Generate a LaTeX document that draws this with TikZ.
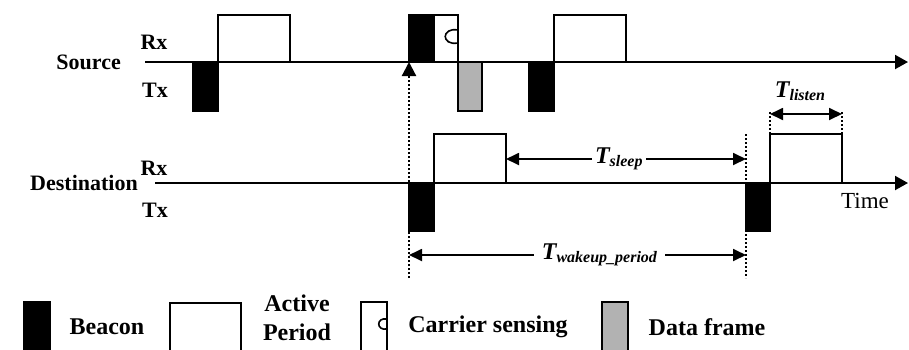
\documentclass[tikz,border=0pt]{standalone}
\usepackage{fontspec}
\setmainfont{Liberation Serif}
\usetikzlibrary{arrows.meta}
\definecolor{framegray}{RGB}{178,178,178}
\tikzset{
  axisline/.style={line width=2pt, -{Triangle[length=13pt,width=14pt]}},
  beaconbox/.style={fill=black, draw=black, line width=1.4pt},
  activebox/.style={fill=white, draw=black, line width=1.8pt},
  databox/.style={fill=framegray, draw=black, line width=1.8pt},
  dotline/.style={line width=2.2pt, dash pattern=on 2pt off 2pt},
  dimline/.style={line width=1.8pt, {Triangle[length=13pt,width=12pt]}-{Triangle[length=13pt,width=12pt]}},
  csglyph/.style={line width=1.6pt},
  lbl/.style={font=\fontsize{22}{24}\selectfont\bfseries, inner sep=0pt},
  leglbl/.style={font=\fontsize{24}{29}\selectfont\bfseries, inner sep=0pt},
  tlbl/.style={fill=white, inner sep=3pt, font=\fontsize{24}{24}\selectfont\bfseries\itshape},
}
\newcommand{\Tsub}[1]{T\raisebox{-3pt}{\fontsize{16}{16}\selectfont\bfseries\itshape #1}}
\begin{document}
\begin{tikzpicture}[x=1pt,y=-1pt]
\useasboundingbox (0,0) rectangle (909,349);
\clip (0,0) rectangle (909,349);

% ---------- Source ----------
\draw[beaconbox] (193,62) rectangle (218,111);
\draw[activebox] (218,15) rectangle (290,62);
\draw[beaconbox] (409,15) rectangle (434,62);
\draw[activebox] (434,15) rectangle (458,62);
\draw[csglyph] (458,30) .. controls (441,27) and (441,46) .. (458,43);
\draw[databox] (458,62) rectangle (482,111);
\draw[beaconbox] (529,62) rectangle (554,111);
\draw[activebox] (554,15) rectangle (626,62);
\coordinate (sA) at (145,62);
\coordinate (sB) at (908,62);
\draw[axisline] (sA) -- (sB);
\node[lbl, anchor=east] (src) at (121,62) {Source};
\node[lbl] (srx) at (154,42) {Rx};
\node[lbl] (stx) at (155,90) {Tx};

% ---------- Destination ----------
\draw[activebox] (434,134) rectangle (506,183);
\draw[beaconbox] (409,183) rectangle (434,231);
\draw[beaconbox] (746,183) rectangle (770,231);
\draw[activebox] (770,134) rectangle (842,183);
\coordinate (dA) at (155,183);
\coordinate (dB) at (908,183);
\draw[axisline] (dA) -- (dB);
\node[lbl, anchor=east] (dst) at (138,183) {Destination};
\node[lbl] (drx) at (154,168) {Rx};
\node[lbl] (dtx) at (155,210) {Tx};
\node[font=\fontsize{23}{24}\selectfont, inner sep=0pt] (time) at (865,201) {Time};

% ---------- dotted markers ----------
\coordinate (w1b) at (409,278);
\coordinate (w1t) at (409,62);
\draw[dotline, -{Triangle[length=14pt,width=14pt]}] (w1b) -- (w1t);
\coordinate (w2t) at (746,134);
\coordinate (w2b) at (746,278);
\draw[dotline] (w2t) -- (w2b);
\coordinate (l1t) at (770,112);
\coordinate (l1b) at (770,134);
\coordinate (l2t) at (842,112);
\coordinate (l2b) at (842,134);
\draw[dotline] (l1t) -- (l1b);
\draw[dotline] (l2t) -- (l2b);

% ---------- durations ----------
\coordinate (sl1) at (506,159);
\coordinate (sl2) at (746,159);
\draw[dimline] (sl1) -- node[tlbl, pos=0.47] (tsleep) {\Tsub{sleep}} (sl2);
\coordinate (wk1) at (409,255);
\coordinate (wk2) at (746,255);
\draw[dimline] (wk1) -- node[tlbl, pos=0.565, inner xsep=8pt] (twake) {\Tsub{wakeup\_period}} (wk2);
\coordinate (ls1) at (770,114);
\coordinate (ls2) at (842,114);
\draw[dimline] (ls1) -- (ls2);
\node[tlbl, fill=none] (tlisten) at (800,91) {\Tsub{listen}};

% ---------- legend ----------
\draw[beaconbox] (24,302) rectangle (50,360);
\node[leglbl] (lbeacon) at (107,327) {Beacon};
\draw[activebox] (170,303) rectangle (241,360);
\node[leglbl, align=center] (lactive) at (297,318) {Active\\Period};
\draw[activebox] (361,302) rectangle (387,360);
\draw[csglyph] (387,319) .. controls (376,317) and (376,331) .. (387,329);
\node[leglbl] (lcs) at (488,327) {Carrier sensing};
\draw[databox] (602,302) rectangle (628,360);
\node[leglbl] (ldata) at (707,327) {Data frame};
\end{tikzpicture}
\end{document}
